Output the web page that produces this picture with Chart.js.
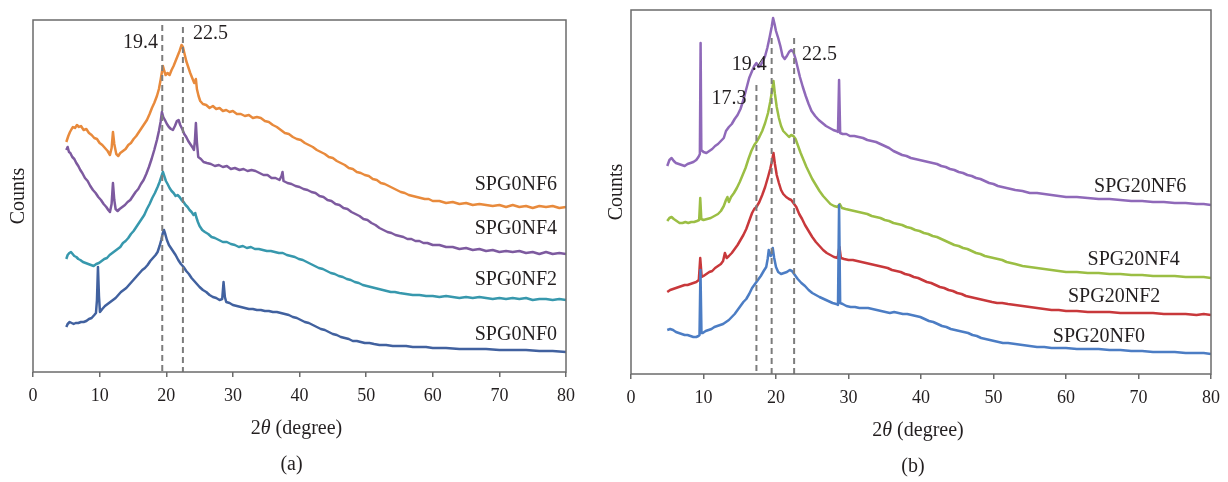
<!DOCTYPE html>
<html>
<head>
<meta charset="utf-8">
<script src="https://cdn.jsdelivr.net/npm/chart.js@4.4.1/dist/chart.umd.min.js"></script>
<style>
  html, body { margin: 0; padding: 0; background: #fff; }
  #wrap { position: relative; width: 1228px; height: 482px; }
  .panel { position: absolute; top: 0; height: 482px; }
  #panelA { left: 0; width: 600px; }
  #panelB { left: 600px; width: 628px; }
</style>
</head>
<body>
<div id="wrap">
  <div class="panel" id="panelA"><canvas id="chartA"></canvas></div>
  <div class="panel" id="panelB"><canvas id="chartB"></canvas></div>
</div>
<script>
// ---- (a) SPG0 series: [2theta, counts] ----
const namesA = ['SPG0NF0', 'SPG0NF2', 'SPG0NF4', 'SPG0NF6'];

const spg0nf0 = [[5.0,45],[5.2,48],[5.5,50],[5.8,49],[6.1,48],[6.4,49],[6.8,49],[7.2,50],[7.6,50],[8.0,51],[8.4,53],[8.8,54],[9.2,57],[9.45,59],[9.6,72],[9.75,105],[9.9,76],[10.05,60],[10.4,63],[10.8,66],[11.2,68],[11.6,70],[12.0,72],[12.4,74],[12.8,77],[13.2,80],[13.6,82],[14.0,84],[14.4,87],[14.8,90],[15.2,93],[15.6,96],[16.0,99],[16.4,102],[16.8,104],[17.2,107],[17.6,111],[18.0,114],[18.4,117],[18.7,120],[19.0,126],[19.25,132],[19.45,138],[19.65,142],[19.85,138],[20.1,132],[20.4,127],[20.7,124],[21.0,121],[21.4,117],[21.8,112],[22.2,108],[22.6,105],[23.0,101],[23.4,98],[23.8,94],[24.2,91],[24.6,88],[25.0,85],[25.5,82],[26.0,80],[26.5,77],[27.0,75],[27.5,74],[28.0,72],[28.4,73],[28.6,90],[28.8,75],[29.0,70],[29.5,69],[30.0,67],[30.6,66],[31.2,65],[31.8,64],[32.4,63],[33.0,63],[33.6,62],[34.2,62],[34.8,61],[35.4,61],[36.0,60],[36.6,60],[37.2,59],[37.8,58],[38.4,57],[39.0,55],[39.6,54],[40.2,52],[40.8,50],[41.4,49],[42.0,47],[42.6,45],[43.2,43],[43.8,42],[44.4,40],[45.0,38],[45.6,37],[46.2,35],[46.8,34],[47.4,33],[48.0,31],[48.6,31],[49.2,30],[49.8,29],[50.5,29],[51.2,28],[52,27],[53,27],[54,26],[55,26],[56,26],[57,25],[58,25],[59,25],[60,24],[62,24],[64,23],[66,23],[68,23],[70,22],[72,22],[74,22],[76,21],[78,21],[80,20]];

const spg0nf2 = [[5.0,113],[5.2,117],[5.45,119],[5.7,120],[5.95,118],[6.2,116],[6.5,115],[6.8,113],[7.1,112],[7.5,110],[7.9,109],[8.3,108],[8.7,107],[9.1,106],[9.5,108],[9.9,109],[10.3,111],[10.7,113],[11.1,114],[11.5,117],[11.9,119],[12.3,121],[12.7,123],[13.1,125],[13.5,129],[13.9,131],[14.3,134],[14.7,138],[15.1,141],[15.5,145],[15.9,149],[16.3,153],[16.7,157],[17.1,163],[17.5,168],[17.9,174],[18.3,179],[18.7,185],[19.0,190],[19.25,195],[19.5,200],[19.7,196],[19.95,191],[20.2,188],[20.5,184],[20.8,181],[21.1,179],[21.4,176],[21.7,177],[22.0,175],[22.3,172],[22.6,170],[22.9,167],[23.2,165],[23.5,162],[23.8,160],[24.1,157],[24.35,159],[24.5,155],[24.75,150],[25.0,146],[25.4,142],[25.8,140],[26.3,138],[26.8,135],[27.3,134],[27.9,132],[28.5,130],[29.1,130],[29.7,128],[30.3,127],[30.9,125],[31.5,126],[32.1,124],[32.7,125],[33.3,123],[33.9,123],[34.5,122],[35.1,121],[35.7,121],[36.3,120],[36.9,119],[37.5,119],[38.1,117],[38.7,116],[39.3,115],[39.9,113],[40.5,112],[41.1,110],[41.7,108],[42.3,106],[42.9,104],[43.5,103],[44.1,101],[44.7,99],[45.3,98],[45.9,96],[46.5,95],[47.1,93],[47.7,92],[48.3,90],[48.9,89],[49.5,87],[50.1,86],[50.7,85],[51.3,84],[51.9,83],[52.5,82],[53.1,81],[53.7,80],[54.3,80],[55,79],[56,78],[57,77],[58,77],[59,76],[60,76],[61,75],[62,76],[63,75],[64,74],[65,75],[66,74],[67,75],[68,74],[69,73],[70,74],[71,73],[72,74],[73,73],[74,74],[75,72],[76,73],[77,73],[78,72],[79,73],[80,72]];

const spg0nf4 = [[5.0,222],[5.2,225],[5.4,220],[5.6,219],[5.9,215],[6.2,213],[6.5,209],[6.8,206],[7.1,202],[7.4,199],[7.8,194],[8.2,191],[8.6,186],[9.0,182],[9.4,179],[9.8,175],[10.2,172],[10.6,168],[11.0,165],[11.3,162],[11.55,160],[11.8,168],[12.0,189],[12.2,172],[12.4,163],[12.7,161],[13.0,163],[13.4,165],[13.8,167],[14.2,170],[14.6,172],[15.0,176],[15.4,180],[15.8,183],[16.2,188],[16.6,192],[17.0,198],[17.4,205],[17.8,213],[18.2,222],[18.6,232],[18.9,241],[19.15,250],[19.35,260],[19.55,255],[19.8,252],[20.1,248],[20.4,245],[20.7,243],[21.0,242],[21.3,246],[21.6,251],[21.85,252],[22.1,247],[22.4,243],[22.7,238],[23.0,235],[23.3,231],[23.6,228],[23.9,225],[24.15,222],[24.3,231],[24.45,249],[24.6,230],[24.8,215],[25.2,213],[25.6,210],[26.1,209],[26.7,208],[27.3,206],[27.9,207],[28.5,205],[29.1,206],[29.7,203],[30.3,204],[31.0,202],[31.6,203],[32.2,201],[32.8,202],[33.4,201],[34.0,199],[34.6,197],[35.2,197],[35.8,194],[36.4,194],[37.0,192],[37.3,196],[37.45,200],[37.6,191],[38.2,189],[38.8,188],[39.4,186],[40.0,185],[40.6,183],[41.2,182],[41.8,180],[42.4,179],[43.0,176],[43.6,175],[44.2,172],[44.8,171],[45.4,168],[46.0,167],[46.6,164],[47.2,163],[47.8,160],[48.4,158],[49.0,156],[49.6,153],[50.2,152],[50.8,149],[51.4,147],[52.0,144],[52.6,142],[53.2,140],[53.8,139],[54.4,137],[55.0,136],[55.6,135],[56.2,133],[56.8,133],[57.4,131],[58.0,131],[58.6,129],[59.2,129],[60,127],[61,127],[62,125],[63,125],[64,123],[65,124],[66,122],[67,123],[68,121],[69,122],[70,120],[71,121],[72,120],[73,121],[74,119],[75,120],[76,118],[77,120],[78,118],[79,119],[80,118]];

const spg0nf6 = [[5.0,230],[5.3,236],[5.55,240],[5.8,243],[6.0,245],[6.3,244],[6.6,247],[6.9,245],[7.2,246],[7.6,242],[8.0,243],[8.4,239],[8.8,237],[9.2,234],[9.6,233],[10.0,229],[10.4,227],[10.8,224],[11.2,221],[11.55,217],[11.8,224],[12.0,240],[12.2,228],[12.5,218],[12.8,216],[13.1,219],[13.5,221],[13.9,223],[14.3,227],[14.7,229],[15.1,233],[15.5,236],[15.9,240],[16.3,244],[16.7,248],[17.1,252],[17.5,258],[17.85,264],[18.2,269],[18.6,276],[18.9,283],[19.15,292],[19.35,300],[19.5,306],[19.7,301],[19.9,297],[20.2,299],[20.5,297],[20.8,302],[21.1,306],[21.4,311],[21.7,316],[22.0,321],[22.3,327],[22.5,325],[22.75,318],[23.0,311],[23.3,305],[23.6,299],[23.9,294],[24.2,289],[24.45,293],[24.6,283],[24.85,276],[25.1,271],[25.5,268],[26.0,267],[26.5,264],[27.0,266],[27.5,263],[28.0,264],[28.5,261],[29.0,262],[29.5,260],[30.0,261],[30.6,258],[31.2,258],[31.8,256],[32.4,257],[33.0,254],[33.6,255],[34.2,254],[34.8,251],[35.4,250],[36.0,247],[36.6,245],[37.2,242],[37.8,239],[38.4,238],[39.0,235],[39.6,233],[40.2,232],[40.8,229],[41.4,227],[42.0,225],[42.6,222],[43.2,220],[43.8,218],[44.4,215],[45.0,214],[45.6,211],[46.2,209],[46.8,207],[47.4,204],[48.0,203],[48.6,200],[49.2,199],[49.8,197],[50.4,196],[51.0,193],[51.6,192],[52.2,189],[52.8,188],[53.4,186],[54.0,184],[54.6,182],[55.2,180],[55.8,179],[56.4,177],[57.0,176],[57.6,175],[58.2,174],[58.8,173],[59.4,173],[60.0,171],[61,171],[62,169],[63,170],[64,168],[65,169],[66,167],[67,168],[68,167],[69,166],[70,167],[71,165],[72,167],[73,165],[74,166],[75,164],[76,166],[77,165],[78,166],[79,164],[80,165]];

// ---- (b) SPG20 series ----
const namesB = ['SPG20NF0', 'SPG20NF2', 'SPG20NF4', 'SPG20NF6'];

const spg20nf0 = [[5.0,44],[5.4,45],[5.8,44],[6.2,42],[6.6,41],[7.0,40],[7.4,39],[7.8,39],[8.2,38],[8.6,37],[9.0,37],[9.3,38],[9.45,39],[9.58,104],[9.72,41],[9.9,41],[10.3,43],[10.7,44],[11.1,45],[11.5,47],[11.9,48],[12.3,49],[12.7,50],[13.1,52],[13.5,54],[13.9,57],[14.3,60],[14.7,64],[15.1,68],[15.5,72],[15.9,75],[16.3,80],[16.7,86],[17.1,90],[17.5,94],[17.9,98],[18.3,103],[18.65,107],[18.85,115],[19.0,124],[19.15,119],[19.3,118],[19.55,126],[19.75,116],[20.0,107],[20.3,102],[20.7,100],[21.1,101],[21.5,102],[21.9,104],[22.2,103],[22.6,99],[23.0,95],[23.5,91],[24.0,88],[24.5,84],[25.0,81],[25.5,79],[26.0,77],[26.6,75],[27.2,73],[27.8,71],[28.3,70],[28.55,69],[28.7,169],[28.85,71],[29.2,70],[29.7,68],[30.3,67],[30.9,67],[31.5,66],[32.1,66],[32.7,66],[33.3,65],[33.9,64],[34.5,63],[35.1,62],[35.7,61],[36.3,62],[36.9,61],[37.5,60],[38.1,60],[38.7,59],[39.3,58],[39.9,57],[40.5,55],[41.1,53],[41.7,52],[42.3,50],[42.9,48],[43.5,47],[44.1,45],[44.7,44],[45.3,43],[45.9,42],[46.5,41],[47.1,39],[47.7,38],[48.3,36],[48.9,35],[49.5,34],[50.1,33],[50.7,32],[51.3,31],[52,31],[53,30],[54,29],[55,28],[56,27],[57,27],[58,26],[59,26],[60,26],[61.5,25],[63,25],[64.5,25],[66,24],[67.5,24],[69,23],[70.5,23],[72,22],[73.5,22],[75,22],[76.5,21],[78,21],[79,21],[80,20]];

const spg20nf2 = [[5.0,82],[5.4,84],[5.8,85],[6.2,86],[6.6,87],[7.0,88],[7.4,89],[7.8,89],[8.2,90],[8.6,91],[9.0,92],[9.35,94],[9.55,116],[9.75,97],[10.0,98],[10.4,100],[10.8,102],[11.2,103],[11.6,106],[12.0,108],[12.4,110],[12.7,113],[12.95,121],[13.2,116],[13.5,118],[13.9,121],[14.3,125],[14.7,129],[15.1,134],[15.5,139],[15.9,145],[16.3,153],[16.7,161],[17.0,165],[17.3,167],[17.7,172],[18.1,179],[18.5,187],[18.9,197],[19.2,205],[19.45,213],[19.65,221],[19.85,210],[20.1,199],[20.4,191],[20.7,184],[21.0,180],[21.4,177],[21.8,175],[22.1,174],[22.4,171],[22.8,167],[23.2,160],[23.6,155],[24.0,149],[24.5,143],[25.0,137],[25.5,132],[26.0,128],[26.5,124],[27.0,121],[27.5,119],[28.0,117],[28.5,116],[28.75,127],[28.95,116],[29.4,115],[30.0,114],[30.6,114],[31.2,113],[31.8,112],[32.4,111],[33.0,110],[33.6,109],[34.2,108],[34.8,107],[35.4,106],[36.0,104],[36.6,103],[37.2,102],[37.8,100],[38.4,99],[39.0,97],[39.6,96],[40.2,94],[40.8,92],[41.4,91],[42.0,89],[42.6,87],[43.2,86],[43.8,84],[44.4,83],[45.0,81],[45.6,80],[46.2,78],[46.8,77],[47.4,76],[48.0,75],[48.6,74],[49.2,73],[49.8,72],[50.5,71],[51.2,71],[52,70],[53,69],[54,68],[55,67],[56,66],[57,65],[58,64],[59,64],[60,63],[61.5,63],[63,62],[64.5,62],[66,62],[67.5,61],[69,61],[70.5,61],[72,61],[73.5,60],[75,60],[76.5,60],[78,59],[79,60],[80,59]];

const spg20nf4 = [[5.0,153],[5.3,156],[5.6,157],[5.9,155],[6.3,153],[6.7,151],[7.1,151],[7.5,152],[7.9,151],[8.3,152],[8.7,152],[9.1,153],[9.4,154],[9.55,176],[9.7,155],[10.0,154],[10.5,155],[11.0,156],[11.5,158],[12.0,160],[12.4,163],[12.8,168],[13.1,174],[13.3,177],[13.5,172],[13.8,177],[14.2,181],[14.6,186],[15.0,192],[15.4,199],[15.8,206],[16.2,215],[16.6,223],[17.0,229],[17.3,232],[17.7,237],[18.1,243],[18.5,251],[18.9,261],[19.2,272],[19.45,283],[19.65,293],[19.85,280],[20.1,267],[20.4,256],[20.7,248],[21.0,243],[21.4,240],[21.8,237],[22.1,239],[22.4,238],[22.7,235],[23.0,229],[23.4,221],[23.8,214],[24.2,207],[24.6,201],[25.0,195],[25.5,189],[26.0,183],[26.5,178],[27.0,174],[27.5,170],[28.0,168],[28.5,167],[28.8,170],[29.1,166],[29.6,165],[30.2,164],[30.8,163],[31.4,162],[32.0,161],[32.6,160],[33.2,158],[33.8,157],[34.4,156],[35.0,154],[35.6,153],[36.2,151],[36.8,150],[37.4,149],[38.0,147],[38.6,146],[39.2,144],[39.8,143],[40.4,141],[41.0,140],[41.6,138],[42.2,137],[42.8,135],[43.4,133],[44.0,131],[44.6,129],[45.2,128],[45.8,126],[46.4,125],[47.0,123],[47.6,121],[48.2,120],[48.8,118],[49.4,117],[50.0,116],[50.6,115],[51.2,114],[51.8,112],[52.4,111],[53,110],[54,108],[55,107],[56,106],[57,105],[58,104],[59,103],[60,102],[61.5,102],[63,101],[64.5,101],[66,100],[67.5,100],[69,99],[70.5,99],[72,98],[73.5,98],[75,98],[76.5,97],[78,97],[79,97],[80,96]];

const spg20nf6 = [[5.0,208],[5.3,214],[5.6,216],[5.9,213],[6.2,211],[6.6,210],[7.0,209],[7.4,208],[7.8,210],[8.2,211],[8.6,212],[9.0,214],[9.3,217],[9.5,220],[9.6,331],[9.7,224],[10.0,222],[10.4,221],[10.8,223],[11.2,225],[11.6,228],[12.0,230],[12.4,233],[12.8,236],[13.1,243],[13.5,247],[13.9,250],[14.3,255],[14.7,259],[15.1,265],[15.5,274],[15.9,285],[16.3,296],[16.7,303],[17.0,308],[17.3,311],[17.6,307],[17.9,309],[18.2,313],[18.5,318],[18.8,326],[19.1,336],[19.4,347],[19.6,356],[19.8,350],[20.0,343],[20.3,336],[20.6,328],[20.9,318],[21.2,315],[21.5,318],[21.8,322],[22.1,324],[22.4,322],[22.7,315],[23.0,306],[23.3,297],[23.7,287],[24.1,278],[24.5,270],[24.9,263],[25.4,258],[25.9,254],[26.4,251],[26.9,248],[27.4,246],[27.9,244],[28.3,243],[28.55,242],[28.7,294],[28.85,241],[29.2,240],[29.7,240],[30.2,238],[30.8,238],[31.4,237],[32.0,236],[32.6,234],[33.2,233],[33.8,232],[34.4,230],[35.0,228],[35.6,226],[36.2,223],[36.8,221],[37.4,219],[38.0,218],[38.6,216],[39.2,215],[39.8,214],[40.4,213],[41.0,212],[41.6,211],[42.2,210],[42.8,208],[43.4,207],[44.0,205],[44.6,204],[45.2,202],[45.8,201],[46.4,199],[47.0,198],[47.6,196],[48.2,195],[48.8,193],[49.4,191],[50.0,190],[50.6,188],[51.2,187],[51.8,186],[52.4,185],[53,184],[54,183],[55,181],[56,181],[57,180],[58,179],[59,178],[60,177],[61.5,177],[63,176],[64.5,175],[66,175],[67.5,174],[69,173],[70.5,173],[72,172],[73.5,172],[75,171],[76.5,171],[78,170],[79,170],[80,169]];

// reference peak positions (dashed markers) and the height each marker reaches
const peaksA = [19.4, 22.5];
const peakTopsA = [347, 345];
const peaksB = [17.3, 19.4, 22.5];
const peakTopsB = [289, 336, 336];

const SERIF = '"Liberation Serif", "DejaVu Serif", serif';
const INK = '#231f20';
const FRAME = '#6b6b6b';

Chart.defaults.font.family = SERIF;
Chart.defaults.color = INK;

const toXY = pts => pts.map(([x, y]) => ({ x, y }));

function curve(pts, color) {
    return {
        data: toXY(pts),
        borderColor: color,
        borderWidth: 2.5,
        borderJoinStyle: 'round',
        pointRadius: 0,
        tension: 0,
        order: 1
    };
}

function marker(at, top) {
    return {
        data: [{ x: at, y: top }, { x: at, y: 0 }],
        borderColor: '#7d7d7d',
        borderWidth: 2,
        borderDash: [6, 4],
        pointRadius: 0,
        order: 0
    };
}

// frame, in-plot labels, x title with italic theta, panel letter
const figureText = {
    id: 'figureText',
    afterDatasetsDraw(chart, args, opts) {
        const { ctx, chartArea: a, scales: { x, y } } = chart;
        ctx.save();
        ctx.strokeStyle = FRAME;
        ctx.lineWidth = 1.5;
        ctx.strokeRect(a.left, a.top, a.right - a.left, a.bottom - a.top);

        ctx.fillStyle = INK;
        ctx.textBaseline = 'middle';
        ctx.font = '20px ' + SERIF;
        opts.notes.forEach(n => {
            ctx.textAlign = n.align;
            ctx.fillText(n.text, x.getPixelForValue(n.at[0]), y.getPixelForValue(n.at[1]));
        });

        const parts = [['2', ''], ['\u03b8', 'italic '], [' (degree)', '']];
        let w = 0;
        parts.forEach(p => { ctx.font = p[1] + '20px ' + SERIF; w += ctx.measureText(p[0]).width; });
        let tx = (a.left + a.right) / 2 + opts.titleDx - w / 2;
        const ty = a.bottom + opts.titleDy;
        ctx.textAlign = 'left';
        parts.forEach(p => {
            ctx.font = p[1] + '20px ' + SERIF;
            ctx.fillText(p[0], tx, ty);
            tx += ctx.measureText(p[0]).width;
        });

        ctx.font = '20px ' + SERIF;
        ctx.textAlign = 'center';
        ctx.fillText(opts.panel, (a.left + a.right) / 2 + opts.panelDx, a.bottom + opts.panelDy);
        ctx.restore();
    }
};

function buildChart(id, datasets, cfg) {
    return new Chart(document.getElementById(id), {
        type: 'line',
        data: { datasets: datasets },
        plugins: [figureText],
        options: {
            responsive: true,
            maintainAspectRatio: false,
            animation: false,
            layout: { padding: { left: 0, top: cfg.top, right: cfg.right, bottom: 0 } },
            plugins: {
                legend: { display: false },
                tooltip: { enabled: false },
                figureText: {
                    notes: cfg.notes,
                    titleDx: -3, titleDy: 57,
                    panel: cfg.panel, panelDx: -8, panelDy: 93
                }
            },
            scales: {
                x: {
                    type: 'linear',
                    min: 0,
                    max: 80,
                    ticks: { stepSize: 10, maxRotation: 0, padding: 8, color: INK, font: { size: 18 } },
                    grid: { drawOnChartArea: false, drawTicks: true, tickLength: 5, color: FRAME, lineWidth: 1.5 },
                    border: { display: false },
                    afterFit: s => { s.height = cfg.xHeight; }
                },
                y: {
                    min: 0,
                    max: cfg.yMax,
                    ticks: { display: false },
                    grid: { display: false },
                    border: { display: false },
                    title: { display: true, text: 'Counts', color: INK, font: { size: 20 }, padding: { top: cfg.countsPad, bottom: 0 } },
                    afterFit: s => { s.width = cfg.yWidth; }
                }
            }
        }
    });
}

const colorsA = ['#41619f', '#3798ad', '#7d5a9f', '#e88a3c'];
const seriesA = [spg0nf0, spg0nf2, spg0nf4, spg0nf6];
const colorsB = ['#4c7dc4', '#c8383b', '#9bbe44', '#8f69b9'];
const seriesB = [spg20nf0, spg20nf2, spg20nf4, spg20nf6];

buildChart('chartA',
    peaksA.map((p, i) => marker(p, peakTopsA[i]))
        .concat(seriesA.map((s, i) => curve(s, colorsA[i]))),
    {
        top: 20, right: 34, xHeight: 110, yWidth: 33, yMax: 352, panel: '(a)', countsPad: 7,
        notes: [
            { text: peaksA[0].toFixed(1), at: [18.76, 329], align: 'right' },
            { text: peaksA[1].toFixed(1), at: [24.0, 338], align: 'left' },
            { text: namesA[3], at: [78.65, 187.5], align: 'right' },
            { text: namesA[2], at: [78.65, 143], align: 'right' },
            { text: namesA[1], at: [78.65, 92.5], align: 'right' },
            { text: namesA[0], at: [78.65, 37.5], align: 'right' }
        ]
    });

buildChart('chartB',
    peaksB.map((p, i) => marker(p, peakTopsB[i]))
        .concat(seriesB.map((s, i) => curve(s, colorsB[i]))),
    {
        top: 10, right: 15, xHeight: 108, yWidth: 31, yMax: 364, panel: '(b)', countsPad: 5,
        notes: [
            { text: peaksB[0].toFixed(1), at: [11.1, 275], align: 'left' },
            { text: peaksB[1].toFixed(1), at: [13.9, 309], align: 'left' },
            { text: peaksB[2].toFixed(1), at: [23.6, 319], align: 'left' },
            { text: namesB[3], at: [76.6, 187], align: 'right' },
            { text: namesB[2], at: [75.7, 114], align: 'right' },
            { text: namesB[1], at: [73.0, 77], align: 'right' },
            { text: namesB[0], at: [70.9, 37], align: 'right' }
        ]
    });
</script>
</body>
</html>
